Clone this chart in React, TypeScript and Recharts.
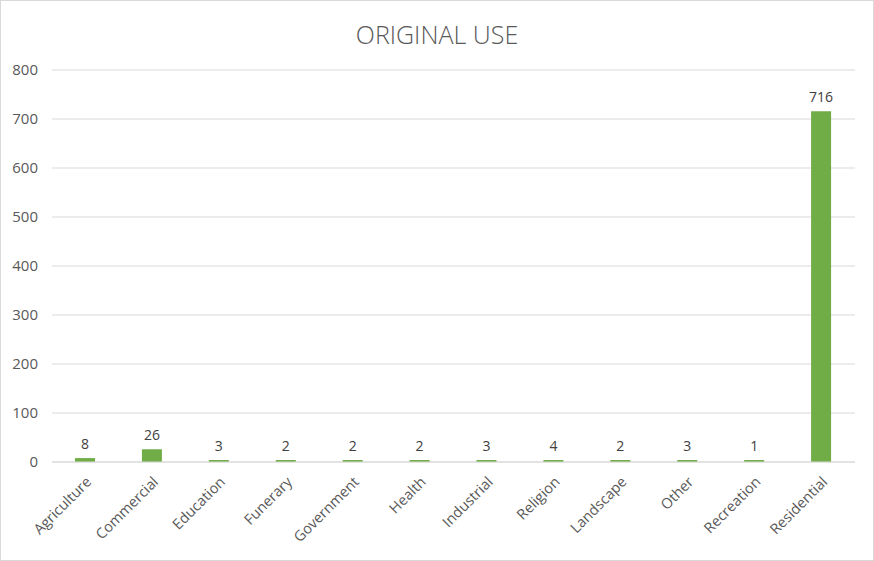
import React from "react";
import { BarChart, Bar, XAxis, YAxis, CartesianGrid, LabelList } from "recharts";

const categories = [
  "Agriculture",
  "Commercial",
  "Education",
  "Funerary",
  "Government",
  "Health",
  "Industrial",
  "Religion",
  "Landscape",
  "Other",
  "Recreation",
  "Residential",
];

const counts = [8, 26, 3, 2, 2, 2, 3, 4, 2, 3, 1, 716];

const yTicks = [0, 100, 200, 300, 400, 500, 600, 700, 800];

const data = categories.map((name, i) => ({ name, count: counts[i] }));

const CategoryTick = (props: any) => {
  const { x, y, payload } = props;
  return (
    <g transform={`translate(${x + 4},${y + 10})`}>
      <text
        textAnchor="end"
        transform="rotate(-45)"
        fill="#595959"
        fontSize={14.5}
        fontFamily="'Open Sans', sans-serif"
        dy={4}
      >
        {payload.value}
      </text>
    </g>
  );
};

const App: React.FC = () => {
  return (
    <div
      style={{
        position: "relative",
        width: 874,
        height: 561,
        boxSizing: "border-box",
        border: "1px solid #d9d9d9",
        background: "#fff",
      }}
    >
      <style>{"body{margin:0}"}</style>
      <div
        style={{
          position: "absolute",
          top: 16,
          left: 0,
          width: "100%",
          textAlign: "center",
          fontFamily: "'Open Sans', sans-serif",
          fontSize: 25,
          lineHeight: "34px",
          color: "#595959",
          fontWeight: 300,
        }}
      >
        ORIGINAL USE
      </div>
      <BarChart
        width={872}
        height={559}
        data={data}
        margin={{ top: 69, right: 18, bottom: 0, left: 0 }}
        barCategoryGap="35%"
      >
        <CartesianGrid vertical={false} stroke="#d9d9d9" />
        <XAxis
          dataKey="name"
          interval={0}
          tick={<CategoryTick />}
          tickLine={false}
          axisLine={{ stroke: "#d9d9d9" }}
          height={98}
        />
        <YAxis
          domain={[0, 800]}
          ticks={yTicks}
          width={51}
          tickLine={false}
          axisLine={false}
          tickSize={0}
          tickMargin={14}
          tick={{ fill: "#595959", fontSize: 15, fontFamily: "'Open Sans', sans-serif" }}
        />
        <Bar dataKey="count" fill="#70ad47" barSize={20} minPointSize={2} isAnimationActive={false}>
          <LabelList
            dataKey="count"
            position="top"
            offset={9}
            fill="#404040"
            fontSize={14}
            fontFamily="'Open Sans', sans-serif"
          />
        </Bar>
      </BarChart>
    </div>
  );
};

export default App;
